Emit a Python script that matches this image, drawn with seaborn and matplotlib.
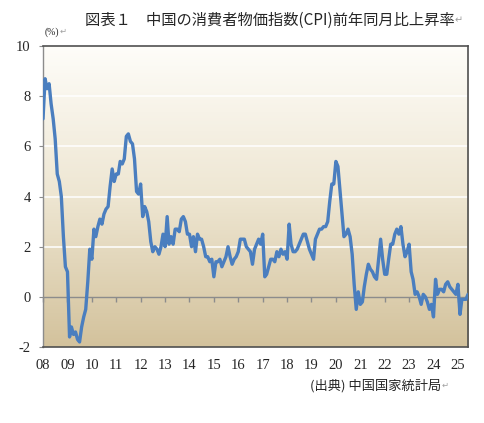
import numpy as np
import pandas as pd
import seaborn as sns
import matplotlib.pyplot as plt
from matplotlib.colors import LinearSegmentedColormap

# China CPI, year-on-year change (%), monthly from Jan 2008
cpi_2008 = [7.1, 8.7, 8.3, 8.5, 7.7, 7.1, 6.3, 4.9, 4.6, 4.0, 2.4, 1.2]
cpi_2009 = [1.0, -1.6, -1.2, -1.5, -1.4, -1.7, -1.8, -1.2, -0.8, -0.5, 0.6, 1.9]
cpi_2010 = [1.5, 2.7, 2.4, 2.8, 3.1, 2.9, 3.3, 3.5, 3.6, 4.4, 5.1, 4.6]
cpi_2011 = [4.9, 4.9, 5.4, 5.3, 5.5, 6.4, 6.5, 6.2, 6.1, 5.5, 4.2, 4.1]
cpi_2012 = [4.5, 3.2, 3.6, 3.4, 3.0, 2.2, 1.8, 2.0, 1.9, 1.7, 2.0, 2.5]
cpi_2013 = [2.0, 3.2, 2.1, 2.4, 2.1, 2.7, 2.7, 2.6, 3.1, 3.2, 3.0, 2.5]
cpi_2014 = [2.5, 2.0, 2.4, 1.8, 2.5, 2.3, 2.3, 2.0, 1.6, 1.6, 1.4, 1.5]
cpi_2015 = [0.8, 1.4, 1.4, 1.5, 1.2, 1.4, 1.6, 2.0, 1.6, 1.3, 1.5, 1.6]
cpi_2016 = [1.8, 2.3, 2.3, 2.3, 2.0, 1.9, 1.8, 1.3, 1.9, 2.1, 2.3, 2.1]
cpi_2017 = [2.5, 0.8, 0.9, 1.2, 1.5, 1.5, 1.4, 1.8, 1.6, 1.9, 1.7, 1.8]
cpi_2018 = [1.5, 2.9, 2.1, 1.8, 1.8, 1.9, 2.1, 2.3, 2.5, 2.5, 2.2, 1.9]
cpi_2019 = [1.7, 1.5, 2.3, 2.5, 2.7, 2.7, 2.8, 2.8, 3.0, 3.8, 4.5, 4.5]
cpi_2020 = [5.4, 5.2, 4.3, 3.3, 2.4, 2.5, 2.7, 2.4, 1.7, 0.5, -0.5, 0.2]
cpi_2021 = [-0.3, -0.2, 0.4, 0.9, 1.3, 1.1, 1.0, 0.8, 0.7, 1.5, 2.3, 1.5]
cpi_2022 = [0.9, 0.9, 1.5, 2.1, 2.1, 2.5, 2.7, 2.5, 2.8, 2.1, 1.6, 1.8]
cpi_2023 = [2.1, 1.0, 0.7, 0.1, 0.2, 0.0, -0.3, 0.1, 0.0, -0.2, -0.5, -0.3]
cpi_2024 = [-0.8, 0.7, 0.1, 0.3, 0.3, 0.2, 0.5, 0.6, 0.4, 0.3, 0.2, 0.1]
cpi_2025 = [0.5, -0.7, -0.1, -0.1, -0.1, 0.1]

year_labels = ['08', '09', '10', '11', '12', '13', '14', '15', '16', '17',
               '18', '19', '20', '21', '22', '23', '24', '25']
y_ticks = [-2, 0, 2, 4, 6, 8, 10]

values = (cpi_2008 + cpi_2009 + cpi_2010 + cpi_2011 + cpi_2012 + cpi_2013
          + cpi_2014 + cpi_2015 + cpi_2016 + cpi_2017 + cpi_2018 + cpi_2019
          + cpi_2020 + cpi_2021 + cpi_2022 + cpi_2023 + cpi_2024 + cpi_2025)
df = pd.DataFrame({'date': pd.date_range('2008-01-01', periods=len(values), freq='MS'),
                   'cpi': values})

sns.set_style('white')
plt.rcParams['font.family'] = ['Noto Sans CJK JP', 'DejaVu Sans']

fig = plt.figure(figsize=(4.85, 4.23), dpi=100)
ax = fig.add_axes([0.0887, 0.1797, 0.8763, 0.7113])

# gradient background of the plot area
cmap = LinearSegmentedColormap.from_list('bg', ['#D3C29C', '#EEE6D2', '#FEFDF9'])
ax.imshow(np.linspace(0, 1, 256).reshape(-1, 1), extent=[0, 1, 0, 1],
          transform=ax.transAxes, aspect='auto', cmap=cmap, origin='lower', zorder=0)

for v in y_ticks[2:]:
    ax.axhline(v, color='white', lw=1.1, zorder=1)
ax.axhline(0, color='#8C8C8C', lw=1.0, zorder=1)

sns.lineplot(data=df, x='date', y='cpi', ax=ax, color='#4A7EBF', lw=2.4, zorder=3)

jan = pd.date_range('2008-01-01', periods=len(year_labels), freq='YS')
ax.set_xlim(df['date'].iloc[0], df['date'].iloc[-1])
ax.set_ylim(-2, 10)
ax.set_xticks(jan)
ax.set_xticklabels(year_labels, family='Liberation Serif', fontsize=10.5)
ax.set_yticks(y_ticks)
ax.set_yticklabels([str(v) for v in y_ticks], family='Liberation Serif', fontsize=10.5)
ax.tick_params(axis='x', length=0, pad=9)
ax.tick_params(axis='y', length=3, color='#8C8C8C', pad=6, direction='out', left=True)
ax.set_xlabel('')
ax.set_ylabel('')

# tick marks on the zero line
sec = ax.secondary_xaxis(1 / 6)
sec.set_xticks(jan)
sec.tick_params(axis='x', length=3.5, width=1, color='#8C8C8C', direction='out',
                labelbottom=False)
sec.spines['bottom'].set_visible(False)

for side in ['top', 'right', 'bottom']:
    ax.spines[side].set_color('#505050')
    ax.spines[side].set_linewidth(1.2)
ax.spines['left'].set_color('#8C8C8C')
ax.spines['left'].set_linewidth(1.0)

title = fig.text(0.175, 0.952, '図表１　中国の消費者物価指数(CPI)前年同月比上昇率',
                 fontsize=11, va='center', ha='left')
fig.canvas.draw()
ax.annotate('↵', xy=(1, 0.5), xycoords=title, va='center', ha='left',
            fontsize=7, color='#A0A0A0', family='DejaVu Sans')

pct = fig.text(0.093, 0.925, '(%)', fontsize=7, va='center', ha='left',
               family='Liberation Serif')
ax.annotate('↵', xy=(1, 0.5), xycoords=pct, va='center', ha='left',
            fontsize=6, color='#A0A0A0', family='DejaVu Sans')

src = fig.text(0.64, 0.089, '(出典) 中国国家統計局', fontsize=9.5, va='center', ha='left')
ax.annotate('↵', xy=(1, 0.5), xycoords=src, va='center', ha='left',
            fontsize=6, color='#A0A0A0', family='DejaVu Sans')

fig.savefig('out.png', dpi=100)
